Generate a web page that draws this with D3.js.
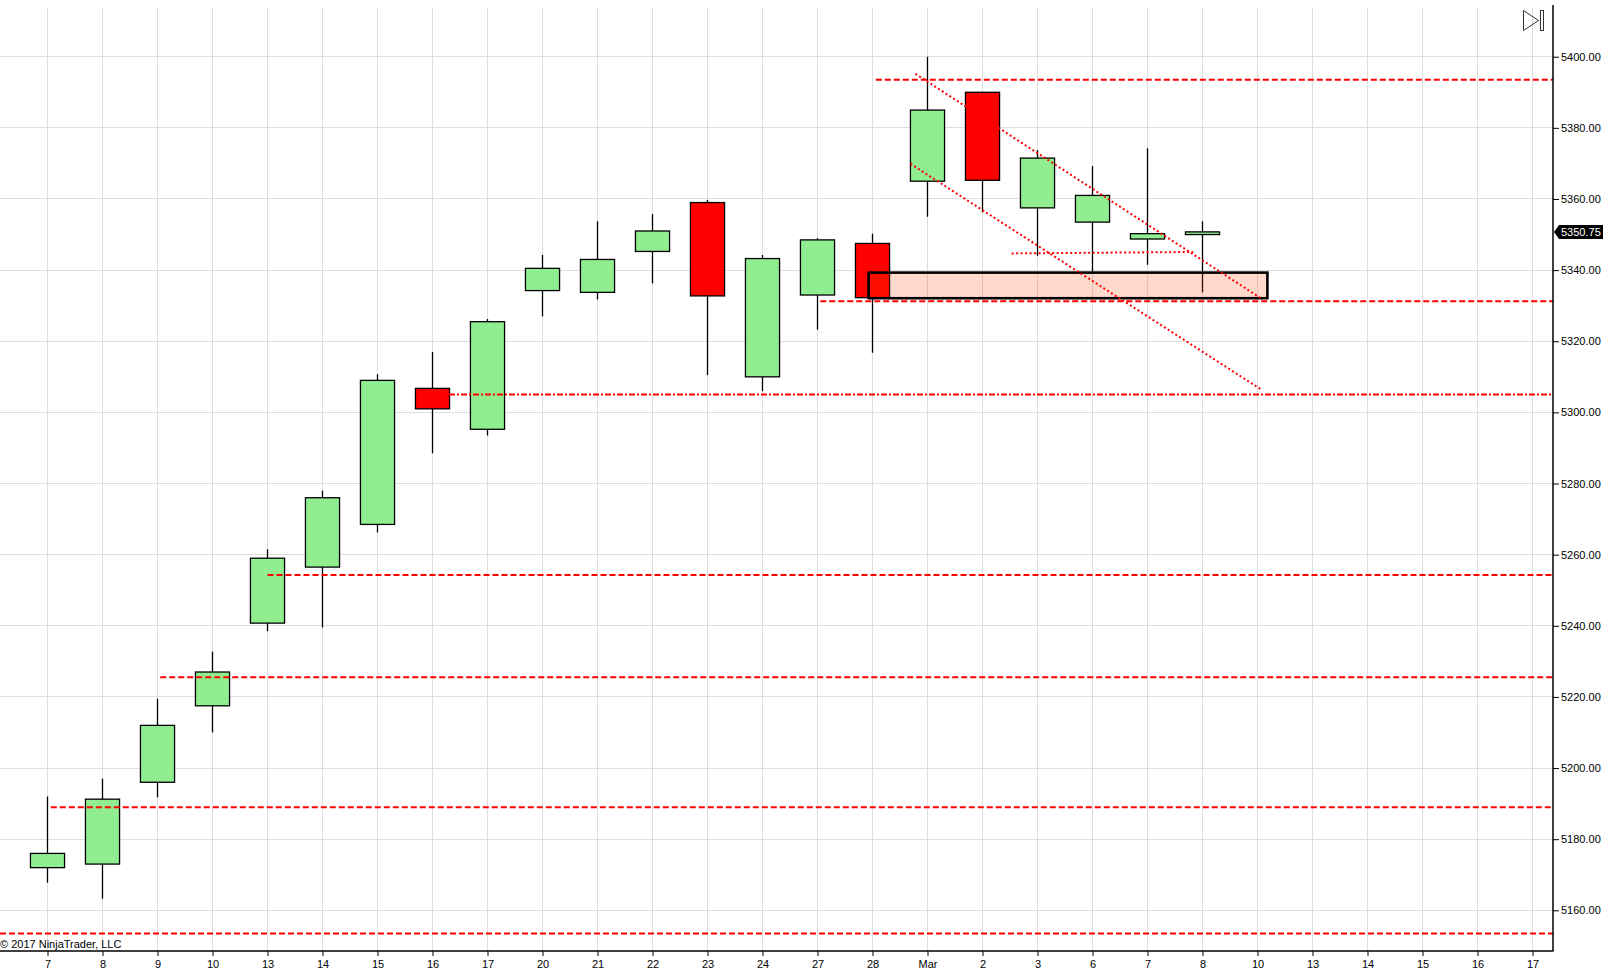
<!DOCTYPE html>
<html>
<head>
<meta charset="utf-8">
<script src="https://cdn.jsdelivr.net/npm/d3@7"></script>
<style>
  body { margin: 0; background: #fff; }
  text { font-family: "Liberation Sans", Arial, sans-serif; }
</style>
</head>
<body>
<script>
const WIDTH = 1612;
const HEIGHT = 976;
const PLOT_RIGHT = 1553;
const PLOT_TOP = 8;
const PLOT_BOTTOM = 951;

// daily bars, Feb 7 .. Mar 8 (plus empty future slots)
const dates = ['7','8','9','10','13','14','15','16','17','20','21','22','23','24','27','28','Mar','2','3','6','7','8','10','13','14','15','16','17'];
const opens  = [5172, 5173, 5196, 5217.5, 5240.75, 5256.5, 5268.5, 5306.75, 5295.25, 5334.25, 5333.75, 5345.25, 5359, 5310, 5333, 5347.5, 5365, 5390, 5357.5, 5353.5, 5348.75, 5350];
const highs  = [5192, 5197, 5219.5, 5232.75, 5261.5, 5278, 5310.75, 5317, 5326.25, 5344.25, 5353.75, 5355.75, 5359.75, 5344.25, 5349, 5350.25, 5400, 5390, 5373.75, 5369.25, 5374.25, 5353.75];
const lows   = [5167.75, 5163.25, 5191.75, 5210, 5238.5, 5239.5, 5266.25, 5288.5, 5293.5, 5327, 5331.75, 5336.25, 5310.5, 5306, 5323.25, 5316.75, 5355, 5356.25, 5344, 5339.5, 5341.5, 5333.75];
const closes = [5176, 5191.25, 5212, 5227, 5259, 5276, 5309, 5301, 5325.5, 5340.5, 5343, 5351, 5332.75, 5343.25, 5348.5, 5332.25, 5385, 5365.25, 5371.5, 5361, 5350.25, 5350.75];

const priceTicks = [5160, 5180, 5200, 5220, 5240, 5260, 5280, 5300, 5320, 5340, 5360, 5380, 5400];
const lastPrice = 5350.75;

// horizontal levels drawn on the chart (value, bar index where they start)
const levelValues = [5393.5, 5331.25, 5305, 5254.25, 5225.5, 5189, 5153.5];
const levelStarts = [15.06, 14.05, 7.3, 4.0, 2.05, 0.06, -1];
const levelDashDot = [false, false, true, false, false, false, false];

// dotted trend lines [index, price]
const trendFrom = [[15.78, 5395.2], [15.69, 5369.9], [17.53, 5344.7]];
const trendTo   = [[22.06, 5332.1], [22.06, 5306.5], [20.83, 5345.1]];

// shaded zone
const zoneIdx = [14.93, 22.18];
const zonePrice = [5332.1, 5339.3];

const x = d3.scaleLinear().domain([0, 27]).range([47.5, 1532.5]);
const y = d3.scaleLinear().domain([5148.56, 5413.7]).range([PLOT_BOTTOM, PLOT_TOP]);
const bodyW = (x(1) - x(0)) * 0.62;

const svg = d3.select('body')
    .append('svg')
    .attr('width', WIDTH)
    .attr('height', HEIGHT);

svg.append('defs').append('clipPath')
    .attr('id', 'plot')
    .append('rect')
    .attr('x', 0).attr('y', PLOT_TOP)
    .attr('width', PLOT_RIGHT).attr('height', PLOT_BOTTOM - PLOT_TOP);

// grid
const grid = svg.append('g')
    .attr('stroke', '#dedede')
    .attr('stroke-width', 1)
    .attr('shape-rendering', 'crispEdges');
grid.selectAll('.v').data(dates).join('line')
    .attr('x1', (d, i) => x(i)).attr('x2', (d, i) => x(i))
    .attr('y1', PLOT_TOP).attr('y2', PLOT_BOTTOM);
grid.selectAll('.h').data(priceTicks).join('line')
    .attr('x1', 0).attr('x2', PLOT_RIGHT)
    .attr('y1', d => y(d)).attr('y2', d => y(d));

// candles
const candles = svg.append('g').attr('clip-path', 'url(#plot)');
const bar = candles.selectAll('g').data(opens).join('g');
bar.append('line')
    .attr('x1', (d, i) => x(i)).attr('x2', (d, i) => x(i))
    .attr('y1', (d, i) => y(highs[i])).attr('y2', (d, i) => y(lows[i]))
    .attr('stroke', 'black').attr('stroke-width', 1.3);
bar.append('rect')
    .attr('x', (d, i) => x(i) - bodyW / 2)
    .attr('width', bodyW)
    .attr('y', (d, i) => y(Math.max(opens[i], closes[i])))
    .attr('height', (d, i) => Math.max(1, y(Math.min(opens[i], closes[i])) - y(Math.max(opens[i], closes[i]))))
    .attr('fill', (d, i) => closes[i] >= opens[i] ? '#90ee90' : '#ff0000')
    .attr('stroke', 'black').attr('stroke-width', 1.3);

// drawing objects
const draw = svg.append('g').attr('clip-path', 'url(#plot)');

draw.append('rect')
    .attr('x', x(zoneIdx[0]))
    .attr('width', x(zoneIdx[1]) - x(zoneIdx[0]))
    .attr('y', y(zonePrice[1]))
    .attr('height', y(zonePrice[0]) - y(zonePrice[1]))
    .attr('fill', 'orangered').attr('fill-opacity', 0.2)
    .attr('stroke', 'black').attr('stroke-width', 2.6);

draw.selectAll('.level').data(levelValues).join('line')
    .attr('x1', (d, i) => Math.max(0, x(levelStarts[i])))
    .attr('x2', PLOT_RIGHT)
    .attr('y1', d => y(d)).attr('y2', d => y(d))
    .attr('stroke', 'red').attr('stroke-width', 2)
    .attr('stroke-dasharray', (d, i) => levelDashDot[i] ? '6,2,2,2' : '6,3');

draw.selectAll('.trend').data(trendFrom).join('line')
    .attr('x1', d => x(d[0])).attr('y1', d => y(d[1]))
    .attr('x2', (d, i) => x(trendTo[i][0])).attr('y2', (d, i) => y(trendTo[i][1]))
    .attr('stroke', 'red').attr('stroke-width', 2)
    .attr('stroke-dasharray', '2,2.5');

// axes
svg.append('line')
    .attr('x1', 0).attr('x2', PLOT_RIGHT + 0.5)
    .attr('y1', PLOT_BOTTOM).attr('y2', PLOT_BOTTOM)
    .attr('stroke', 'black').attr('stroke-width', 1.5);
svg.append('line')
    .attr('x1', PLOT_RIGHT).attr('x2', PLOT_RIGHT)
    .attr('y1', 5).attr('y2', PLOT_BOTTOM)
    .attr('stroke', 'black').attr('stroke-width', 1.5);

const xAxis = d3.axisBottom(x)
    .tickValues(d3.range(dates.length))
    .tickFormat(i => dates[i])
    .tickSize(5)
    .tickPadding(4);
svg.append('g')
    .attr('transform', `translate(0, ${PLOT_BOTTOM})`)
    .call(xAxis)
    .call(g => g.select('.domain').remove())
    .call(g => g.selectAll('text').attr('font-size', 11).attr('font-family', '"Liberation Sans", Arial'));

const yAxis = d3.axisRight(y)
    .tickValues(priceTicks)
    .tickFormat(d3.format('.2f'))
    .tickSize(6)
    .tickPadding(2);
svg.append('g')
    .attr('transform', `translate(${PLOT_RIGHT}, 0)`)
    .call(yAxis)
    .call(g => g.select('.domain').remove())
    .call(g => g.selectAll('text').attr('font-size', 11).attr('font-family', '"Liberation Sans", Arial'));

// last price marker
const ly = y(lastPrice);
svg.append('path')
    .attr('d', `M${PLOT_RIGHT + 1},${ly} L${PLOT_RIGHT + 6},${ly - 7} L1603,${ly - 7} L1603,${ly + 7} L${PLOT_RIGHT + 6},${ly + 7} Z`)
    .attr('fill', 'black');
svg.append('text')
    .attr('x', 1561).attr('y', ly + 4)
    .attr('font-size', 11)
    .attr('fill', 'white')
    .text(d3.format('.2f')(lastPrice));

// scroll-to-end icon
const icon = svg.append('g')
    .attr('fill', 'none').attr('stroke', '#333').attr('stroke-width', 1);
icon.append('path').attr('d', 'M1523.5,10.5 L1538.5,20.5 L1523.5,30.5 Z');
icon.append('rect').attr('x', 1540.5).attr('y', 10.5).attr('width', 3).attr('height', 20);

svg.append('text')
    .attr('x', 0).attr('y', 948)
    .attr('font-size', 11)
    .attr('fill', 'black')
    .text('© 2017 NinjaTrader, LLC');
</script>
</body>
</html>
